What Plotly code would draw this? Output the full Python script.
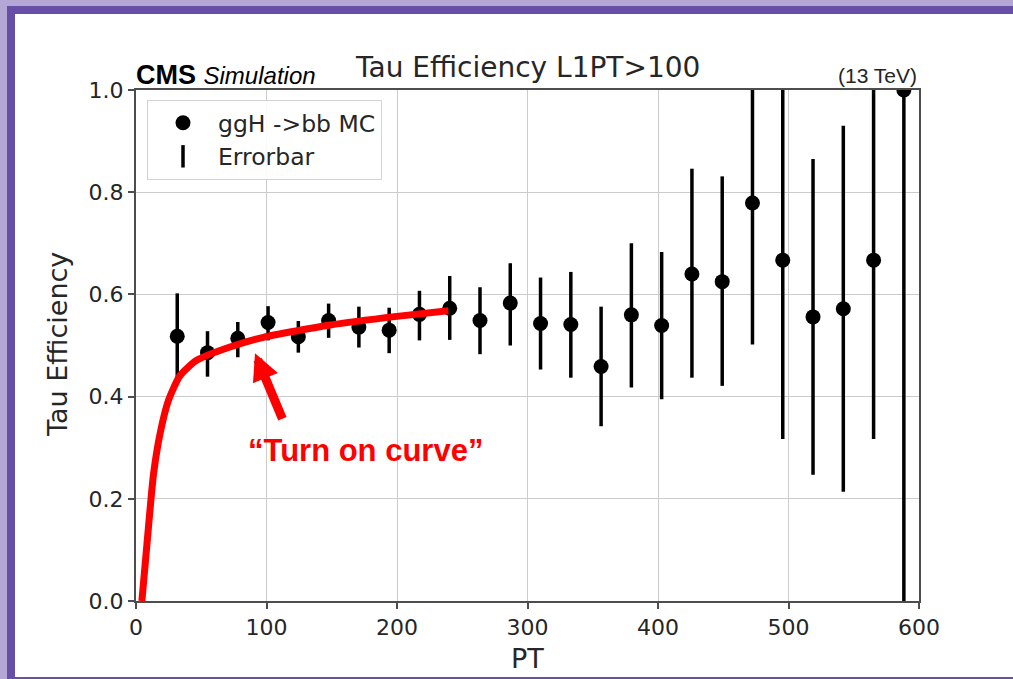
import plotly.graph_objects as go

# ---- data ----
pt_bins = [31.6, 54.8, 78.0, 101.2, 124.4, 147.6, 170.8, 194.0, 217.2, 240.4,
           263.6, 286.8, 310.0, 333.2, 356.4, 379.6, 402.8, 426.0, 449.2, 472.4,
           495.6, 518.8, 542.0, 565.2, 588.4]
efficiency = [0.518, 0.486, 0.514, 0.545, 0.517, 0.549, 0.536, 0.530, 0.561, 0.573,
              0.549, 0.583, 0.543, 0.541, 0.459, 0.560, 0.539, 0.640, 0.625, 0.779,
              0.667, 0.556, 0.572, 0.667, 1.000]
err_low = [0.435, 0.439, 0.477, 0.510, 0.486, 0.515, 0.496, 0.485, 0.510, 0.511,
           0.483, 0.500, 0.453, 0.437, 0.342, 0.418, 0.395, 0.437, 0.421, 0.502,
           0.317, 0.247, 0.214, 0.317, 0.000]
err_high = [0.602, 0.528, 0.546, 0.577, 0.548, 0.582, 0.576, 0.574, 0.607, 0.636,
            0.614, 0.661, 0.633, 0.644, 0.576, 0.700, 0.683, 0.846, 0.831, 1.000,
            1.000, 0.865, 0.930, 1.000, 1.000]

# hand-drawn "turn on curve"
curve_pt = [4.5, 8.0, 11.5, 13.5, 18.4, 24.8, 33.7, 46.5, 72.0, 97.6, 148.7, 199.8, 239.3]
curve_eff = [0.0, 0.10, 0.20, 0.25, 0.327, 0.392, 0.441, 0.471, 0.497, 0.516, 0.540, 0.557, 0.568]

x_ticks = [0, 100, 200, 300, 400, 500, 600]
y_ticks = [0.0, 0.2, 0.4, 0.6, 0.8, 1.0]

err_plus = [h - v for h, v in zip(err_high, efficiency)]
err_minus = [v - l for v, l in zip(efficiency, err_low)]

DARK_PURPLE = "#674ea7"
LIGHT_PURPLE = "#b4a7d6"
TXT = "#262626"

fig = go.Figure()

fig.add_trace(go.Scatter(
    x=pt_bins, y=efficiency, mode="markers",
    marker=dict(color="black", size=15),
    error_y=dict(type="data", symmetric=False, array=err_plus, arrayminus=err_minus,
                 color="black", thickness=3.5, width=0),
    showlegend=False,
))
# legend-only entries
fig.add_trace(go.Scatter(
    x=[None], y=[None], mode="markers", name="ggH ->bb MC",
    marker=dict(color="black", size=15),
))
fig.add_trace(go.Scatter(
    x=[None], y=[None], mode="markers", name="Errorbar",
    marker=dict(symbol="line-ns-open", size=20, color="black",
                line=dict(color="black", width=3.5)),
))
# red turn-on curve
fig.add_trace(go.Scatter(
    x=curve_pt, y=curve_eff, mode="lines",
    line=dict(color="#ff0000", width=7, shape="spline", smoothing=0.6),
    showlegend=False,
))

# background frame shapes (paper coords)
W, H = 1013, 679
L, R, T, B = 136, 94, 90, 78
pw, ph = W - L - R, H - T - B
def px(p):
    return (p - L) / pw
def py(q):
    return (H - B - q) / ph

fig.add_shape(type="rect", xref="paper", yref="paper", layer="below",
              x0=px(7), x1=px(W + 20), y0=py(H + 20), y1=py(6),
              fillcolor=DARK_PURPLE, line=dict(width=0))
fig.add_shape(type="rect", xref="paper", yref="paper", layer="below",
              x0=px(15), x1=px(W + 20), y0=py(677), y1=py(14),
              fillcolor="white", line=dict(width=0))

annotations = [
    dict(text="Tau Efficiency L1PT>100", x=0.5, y=py(68), xref="paper", yref="paper",
         xanchor="center", yanchor="middle", showarrow=False,
         font=dict(family="DejaVu Sans", size=28, color=TXT)),
    dict(text="<b>CMS</b> <span style='font-size:24px'><i>Simulation</i></span>",
         x=px(134), y=py(75), xref="paper", yref="paper",
         xanchor="left", yanchor="middle", showarrow=False,
         font=dict(family="Liberation Sans", size=27, color="black")),
    dict(text="(13 TeV)", x=1.0, y=py(76), xref="paper", yref="paper",
         xanchor="right", yanchor="middle", showarrow=False,
         font=dict(family="Liberation Sans", size=21, color=TXT)),
    dict(text="PT", x=0.5, y=py(659), xref="paper", yref="paper",
         xanchor="center", yanchor="middle", showarrow=False,
         font=dict(family="DejaVu Sans", size=27, color=TXT)),
    dict(text="Tau Efficiency", x=px(57), y=py(345), xref="paper", yref="paper",
         xanchor="center", yanchor="middle", showarrow=False, textangle=-90,
         font=dict(family="DejaVu Sans", size=27, color=TXT)),
    dict(text="<b>\u201cTurn on curve\u201d</b>", x=175.5, y=0.2955, xref="x", yref="y",
         xanchor="center", yanchor="middle", showarrow=False,
         font=dict(family="Liberation Sans", size=31, color="#ff0000")),
    dict(text="", x=91.2, y=0.485, xref="x", yref="y",
         ax=28, ay=67, showarrow=True, arrowhead=2, arrowsize=0.6, arrowwidth=9,
         arrowcolor="#ff0000"),
]

fig.update_layout(
    width=W, height=H,
    margin=dict(l=L, r=R, t=T, b=B),
    paper_bgcolor=LIGHT_PURPLE,
    plot_bgcolor="white",
    annotations=annotations,
    legend=dict(x=px(147), y=py(100), xanchor="left", yanchor="top",
                bgcolor="rgba(255,255,255,0.85)", bordercolor="#d3d3d3", borderwidth=1,
                font=dict(family="DejaVu Sans", size=23.5, color=TXT),
                tracegroupgap=0, itemwidth=60),
    font=dict(family="DejaVu Sans", color=TXT),
)
fig.update_xaxes(range=[0, 600], tickvals=x_ticks, ticktext=[str(v) for v in x_ticks],
                 showgrid=True, gridcolor="#cccccc", gridwidth=1,
                 showline=True, linecolor="#4d4d4d", linewidth=2, mirror=True,
                 ticks="outside", ticklen=6, tickwidth=1.5, tickcolor="#4d4d4d",
                 zeroline=False, tickfont=dict(family="DejaVu Sans", size=22, color=TXT))
fig.update_yaxes(range=[0, 1.0], tickvals=y_ticks, ticktext=[f"{v:.1f}" for v in y_ticks],
                 showgrid=True, gridcolor="#cccccc", gridwidth=1,
                 showline=True, linecolor="#4d4d4d", linewidth=2, mirror=True,
                 ticks="outside", ticklen=6, tickwidth=1.5, tickcolor="#4d4d4d",
                 zeroline=False, tickfont=dict(family="DejaVu Sans", size=22, color=TXT))

fig.write_html("out.html",
               config={"displayModeBar": False},
               post_script="document.body.style.margin='0px';"
                           "document.body.style.overflow='hidden';")
